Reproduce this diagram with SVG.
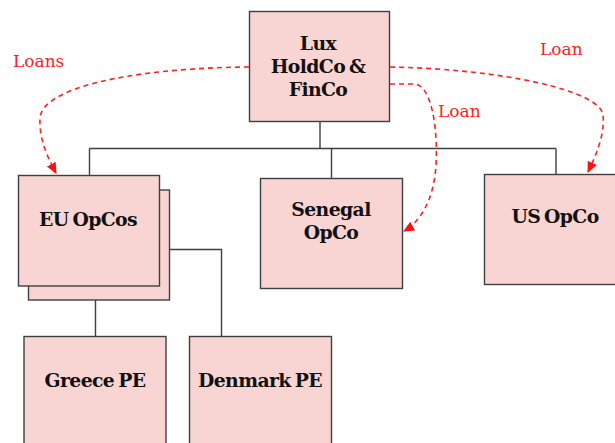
<svg xmlns="http://www.w3.org/2000/svg" width="615" height="443" viewBox="0 0 615 443">
<style>
.box{fill:#F8D5D2;stroke:#3f3f3f;stroke-width:1.4}
.lbl{font-family:"DejaVu Serif","Liberation Serif",serif;font-weight:bold;font-size:18.8px;fill:#111;text-anchor:middle;letter-spacing:-0.6px;word-spacing:-2px}
.conn{fill:none;stroke:#3f3f3f;stroke-width:1.4}
.loan{fill:none;stroke:#FF2020;stroke-width:1.6;stroke-dasharray:5,4}
.ltxt{font-family:"DejaVu Serif","Liberation Serif",serif;font-size:17px;fill:#FF2020}
</style>
<defs>
<marker id="ah" markerWidth="12" markerHeight="12" refX="10" refY="5.5" orient="auto" markerUnits="userSpaceOnUse">
<path d="M0,0.5 L11,5.5 L0,10.5 Z" fill="#FF1010"/>
</marker>
</defs>
<rect width="615" height="443" fill="#fff"/>
<g id="connectors">
<path class="conn" d="M320,122 V148.5 M89.5,148.5 H556 M89.5,148.5 V175.5 M331.5,148.5 V178.5 M556,148.5 V174.5"/>
<path class="conn" d="M95.5,300 V336.5 M169.5,249.5 H221.5 V336.5"/>
<path class="loan" d="M249,67 C130,68 42,88 40,118 C39,140 48,158 56,173" marker-end="url(#ah)"/>
<path class="loan" d="M390,67 C500,69 600,90 603,115 C605,135 596,155 588,172" marker-end="url(#ah)"/>
<path class="loan" d="M390,84 L415,84 C432,86 438,130 436,165 C434,200 420,222 404,231" marker-end="url(#ah)"/>
</g>
<g id="lux">
<rect class="box" x="249.5" y="11.5" width="140" height="110"/>
<text class="lbl" x="318" y="50">Lux</text>
<text class="lbl" x="318" y="73">HoldCo &amp;</text>
<text class="lbl" x="318" y="96">FinCo</text>
</g>
<g id="eu">
<rect class="box" x="28.5" y="190" width="141" height="110"/>
<rect class="box" x="18.5" y="175.5" width="141" height="110.5"/>
<text class="lbl" x="88" y="226">EU OpCos</text>
</g>
<g id="senegal">
<rect class="box" x="260.5" y="178.5" width="142" height="110"/>
<text class="lbl" x="331" y="216">Senegal</text>
<text class="lbl" x="331" y="239">OpCo</text>
</g>
<g id="us">
<rect class="box" x="484.5" y="174.5" width="142" height="110"/>
<text class="lbl" x="555" y="223">US OpCo</text>
</g>
<g id="greece">
<rect class="box" x="24" y="336.5" width="142" height="120"/>
<text class="lbl" x="95" y="387">Greece PE</text>
</g>
<g id="denmark">
<rect class="box" x="189.5" y="336.5" width="142" height="120"/>
<text class="lbl" x="260" y="387">Denmark PE</text>
</g>
<g id="labels">
<text class="ltxt" x="13" y="67">Loans</text>
<text class="ltxt" x="540" y="55">Loan</text>
<text class="ltxt" x="438" y="117">Loan</text>
</g>
</svg>
